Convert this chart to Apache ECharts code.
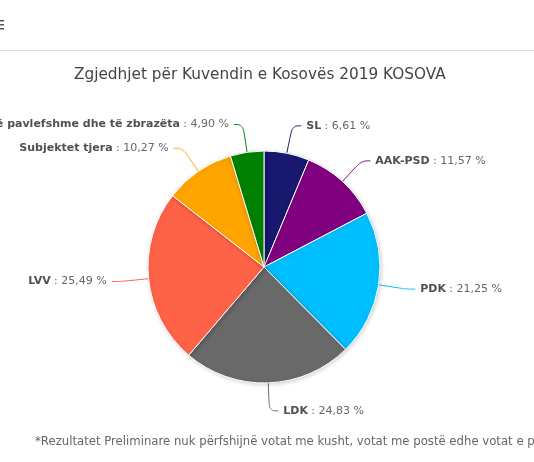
<!DOCTYPE html>
<html>
<head>
<meta charset="utf-8">
<script src="https://cdn.jsdelivr.net/npm/echarts@6/dist/echarts.min.js"></script>
<style>
  html, body { margin: 0; padding: 0; background: #fff; }
  #chart { width: 534px; height: 462px; }
</style>
</head>
<body>
<div id="chart"></div>
<script>
// party names, clockwise from 12 o'clock
var parties = ['SL', 'AAK-PSD', 'PDK', 'LDK', 'LVV', 'Subjektet tjera', 'Votat të pavlefshme dhe të zbrazëta'];
var shares = [6.61, 11.57, 21.25, 24.83, 25.49, 10.27, 4.90];
var sliceColors = ['#191970', '#800080', '#00bfff', '#696969', '#ff6347', '#ffa500', '#008000'];

var titleText = 'Zgjedhjet për Kuvendin e Kosovës 2019 KOSOVA';
var footNote = '*Rezultatet Preliminare nuk përfshijnë votat me kusht, votat me postë edhe votat e personave me nevoja të veçanta';

var chart = echarts.init(document.getElementById('chart'));

var pieData = parties.map(function (p, i) {
    return { name: p, value: shares[i], itemStyle: { color: sliceColors[i] } };
});

chart.setOption({
    animation: false,
    title: {
        text: titleText,
        left: 69,
        top: 63,
        textStyle: {
            fontFamily: 'DejaVu Sans',
            fontWeight: 'normal',
            fontSize: 15.3,
            color: '#444'
        }
    },
    graphic: [
        // header separator line
        { type: 'rect', left: 0, top: 50, shape: { width: 534, height: 1 }, style: { fill: '#dcdcdc' } },
        // cut-off menu icon
        { type: 'rect', left: -3, top: 20, shape: { width: 7, height: 1.5 }, style: { fill: '#555' } },
        { type: 'rect', left: -3, top: 24, shape: { width: 7, height: 1.5 }, style: { fill: '#555' } },
        { type: 'rect', left: -3, top: 28, shape: { width: 7, height: 1.5 }, style: { fill: '#555' } },
        {
            type: 'text', left: 35, top: 436,
            style: {
                text: footNote,
                font: '11.7px "DejaVu Sans"',
                fill: '#666'
            }
        }
    ],
    series: [{
        type: 'pie',
        center: [264, 267],
        radius: 116,
        startAngle: 90,
        clockwise: true,
        data: pieData,
        itemStyle: {
            borderColor: '#fff',
            borderWidth: 1,
            shadowBlur: 4,
            shadowOffsetX: 1,
            shadowOffsetY: 1,
            shadowColor: 'rgba(0,0,0,0.18)'
        },
        label: {
            show: true,
            overflow: 'none',
            formatter: function (p) {
                return '{n|' + p.name + '} {v|: ' + p.value.toFixed(2).replace('.', ',') + ' %}';
            },
            rich: {
                n: { fontFamily: 'DejaVu Sans', fontWeight: 'bold', fontSize: 11, color: '#505050' },
                v: { fontFamily: 'DejaVu Sans', fontSize: 11, color: '#666' }
            }
        },
        labelLine: {
            show: true,
            length: 28,
            length2: 9,
            smooth: 0.4,
            lineStyle: { width: 1 }
        }
    }]
});
</script>
</body>
</html>
